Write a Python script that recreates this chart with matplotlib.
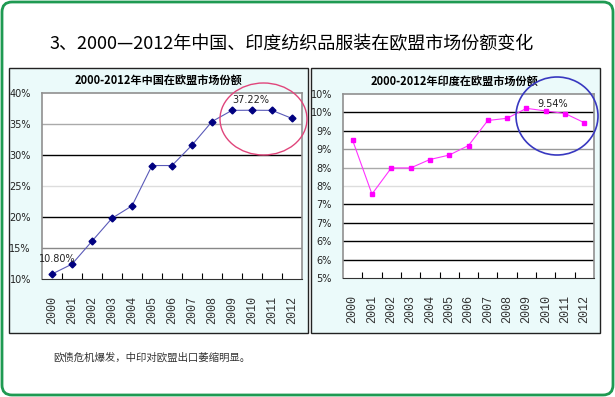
import matplotlib
matplotlib.use("Agg")
import matplotlib.pyplot as plt
from matplotlib.patches import FancyBboxPatch, Rectangle, Ellipse

plt.rcParams['font.family'] = ['Noto Sans CJK SC', 'DejaVu Sans']

years = ['2000', '2001', '2002', '2003', '2004', '2005', '2006',
         '2007', '2008', '2009', '2010', '2011', '2012']
china_share = [10.80, 12.4, 16.1, 19.8, 21.8, 28.3, 28.3,
               31.6, 35.4, 37.2, 37.22, 37.2, 35.9]
india_share = [8.74, 7.28, 7.99, 7.99, 8.22, 8.34, 8.60,
               9.28, 9.34, 9.61, 9.54, 9.47, 9.22]
china_ticks = [10, 15, 20, 25, 30, 35, 40]
china_ticklabels = ['10%', '15%', '20%', '25%', '30%', '35%', '40%']
india_ticks = [5.0, 5.5, 6.0, 6.5, 7.0, 7.5, 8.0, 8.5, 9.0, 9.5, 10.0]
india_ticklabels = ['5%', '6%', '6%', '7%', '7%', '8%', '8%', '9%', '9%', '10%', '10%']

main_title = '3、2000—2012年中国、印度纺织品服装在欧盟市场份额变化'
china_title = '2000-2012年中国在欧盟市场份额'
india_title = '2000-2012年印度在欧盟市场份额'
note = '欧债危机爆发，中印对欧盟出口萎缩明显。'

W, H = 615, 397
fig = plt.figure(figsize=(W / 100, H / 100), dpi=100)
fig.patch.set_facecolor('white')


def px_axes(left, top, right, bottom, **kw):
    return fig.add_axes([left / W, 1 - bottom / H, (right - left) / W, (bottom - top) / H], **kw)


# background layer in pixel coords
bg = fig.add_axes([0, 0, 1, 1], zorder=0)
bg.set_xlim(0, W)
bg.set_ylim(H, 0)
bg.axis('off')
bg.add_patch(FancyBboxPatch((2, 2), W - 4, H - 4, boxstyle='round,pad=0,rounding_size=10',
                            facecolor='white', edgecolor='#1f9a52', lw=2))
bg.add_patch(Rectangle((9, 68), 299, 265, facecolor='#ebfafa', edgecolor='#222222', lw=1))
bg.add_patch(Rectangle((311, 68), 289, 265, facecolor='#ebfafa', edgecolor='#222222', lw=1))
bg.text(292, 44, main_title, ha='center', va='center', fontsize=13, color='black')
bg.text(53, 358, note, ha='left', va='center', fontsize=7.5, color='#333333')
bg.text(158, 80, china_title, ha='center', va='center', fontsize=8, fontweight='bold')
bg.text(454, 81, india_title, ha='center', va='center', fontsize=8, fontweight='bold')

x = list(range(len(years)))


def style_axes(ax, ticks, ticklabels, grid_colors):
    ax.set_facecolor('white')
    ax.set_xlim(-0.5, len(years) - 0.5)
    ax.set_ylim(ticks[0], ticks[-1])
    ax.set_yticks(ticks)
    ax.set_yticklabels(ticklabels, fontsize=7, family='DejaVu Sans', color='#222222')
    ax.tick_params(axis='y', length=0, pad=8)
    ax.set_xticks([i + 0.5 for i in x[:-1]])
    ax.set_xticks(x, minor=True)
    ax.set_xticklabels([])
    ax.set_xticklabels(years, minor=True, rotation=90, fontsize=8.5, family='Liberation Mono',
                       color='#333333')
    ax.tick_params(axis='x', which='major', direction='in', length=4, color='black')
    ax.tick_params(axis='x', which='minor', length=0, pad=12)
    for t, c in zip(ticks[1:-1], grid_colors):
        ax.axhline(t, color=c, lw=1.0, zorder=1)
    for s in ['left', 'right', 'top']:
        ax.spines[s].set_color('#909090')
        ax.spines[s].set_linewidth(1.2)
    ax.spines['bottom'].set_color('#333333')


ax1 = px_axes(42, 93, 302, 279, zorder=1)
style_axes(ax1, china_ticks, china_ticklabels, ['#888888', 'black', '#dddddd', 'black', '#aaaaaa'])
ax1.plot(x, china_share, color='#5a5ab8', lw=0.8, marker='D', markersize=3.5,
         markerfacecolor='#000080', markeredgecolor='#000080', zorder=3, clip_on=False)
ax1.annotate('10.80%', (x[0], china_share[0]), xytext=(5, 15), textcoords='offset pixels',
             ha='center', va='center', fontsize=7, family='DejaVu Sans', color='#222222')
ax1.annotate('37.22%', (x[10], china_share[10]), xytext=(-1, 10), textcoords='offset pixels',
             ha='center', va='center', fontsize=7, family='DejaVu Sans', color='#222222')

ax2 = px_axes(343, 94, 594, 278, zorder=1)
style_axes(ax2, india_ticks, india_ticklabels,
           ['black', 'black', 'black', 'black', '#dddddd', '#aaaaaa', '#999999', 'black', 'black'])
ax2.plot(x, india_share, color='#ff33ff', lw=0.8, marker='s', markersize=3.5,
         markerfacecolor='#ff00ff', markeredgecolor='#ff00ff', zorder=3, clip_on=False)
ax2.annotate('9.54%', (x[10], india_share[10]), xytext=(7, 7), textcoords='offset pixels',
             ha='center', va='center', fontsize=7, family='DejaVu Sans', color='#222222')

# overlay for highlight circles
ov = fig.add_axes([0, 0, 1, 1], zorder=5)
ov.set_xlim(0, W)
ov.set_ylim(H, 0)
ov.axis('off')
ov.patch.set_alpha(0)
ov.add_patch(Ellipse((263.5, 119), 87, 72, fill=False, edgecolor='#e0457b', lw=1))
ov.add_patch(Ellipse((557, 116), 82, 78, fill=False, edgecolor='#3838c0', lw=1.2))

fig.savefig('out.png', dpi=100)
